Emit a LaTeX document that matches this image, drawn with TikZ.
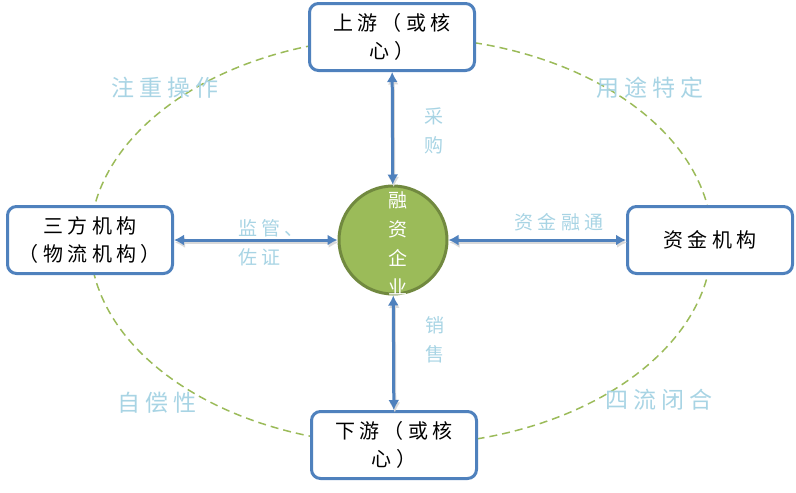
\documentclass[tikz,border=0pt]{standalone}
\usepackage{fontspec}
\setmainfont[LetterSpace=22]{Noto Sans CJK SC}
\usetikzlibrary{arrows.meta}
\definecolor{boxblue}{HTML}{4F81BD}
\definecolor{loopgreen}{HTML}{9BBB59}
\definecolor{hubgreen}{HTML}{9BBB59}
\definecolor{hubedge}{HTML}{71893F}
\definecolor{tagblue}{RGB}{168,212,228}

\begin{document}
\begin{tikzpicture}[
            x=1pt, y=-1pt,
            party/.style={rectangle, draw=boxblue, line width=3pt, rounded corners=9pt, fill=white, minimum width=165pt, minimum height=67pt, align=center, font=\fontsize{20}{28}\selectfont},
            hubnode/.style={circle, draw=hubedge, line width=3pt, fill=hubgreen, minimum size=108pt, inner sep=0pt},
            link/.style={{Latex[length=10pt,width=11pt]}-{Latex[length=10pt,width=11pt]}, draw=boxblue, line width=3pt,
              preaction={draw=black!15, line width=3pt, transform canvas={shift={(1pt,-2.5pt)}}}},
            tag/.style={text=tagblue, align=left, inner sep=0pt, font=\fontsize{19}{29}\selectfont},
            cornertag/.style={text=tagblue, inner sep=0pt, font=\fontsize{23}{28}\selectfont},
            loop/.style={draw=loopgreen, line width=1.5pt, dash pattern=on 8pt off 5pt}
            ]
            \useasboundingbox (0,0) rectangle (796,493);

            % Closed loop
            \draw[loop] (401,241) ellipse [x radius=311, y radius=204];

            % Parties
            \node[party] (up) at (392,37) {上游（或核\\心）};
            \node[party] (down) at (394,445) {下游（或核\\心）};
            \node[party] (third) at (90,240) {三方机构\\（物流机构）};
            \node[party] (fund) at (710,240) {资金机构};

            % Financing enterprise
            \node[hubnode] (hub) at (393,240) {};
            \node[text=white, align=center, inner sep=0pt, font=\fontsize{19}{29}\selectfont] (hubtext) at (398,243) {融\\资\\企\\业};

            % Arrows
            \draw[link] (up) -- (hub);
            \draw[link] (hub) -- (down);
            \draw[link] (third) -- (hub);
            \draw[link] (hub) -- (fund);

            % Flow labels
            \node[tag, align=center] (buy) at (434,131) {采\\购};
            \node[tag, align=center] (sell) at (435,340) {销\\售};
            \node[tag, anchor=west] (watch) at (238,243) {监管、\\佐证};
            \node[tag] (money) at (559,222) {资金融通};

            % Features
            \node[cornertag] (ops) at (165,88) {注重操作};
            \node[cornertag] (use) at (650,88) {用途特定};
            \node[cornertag] (self) at (157,403) {自偿性};
            \node[cornertag] (close) at (659,400) {四流闭合};
        \end{tikzpicture}
\end{document}
